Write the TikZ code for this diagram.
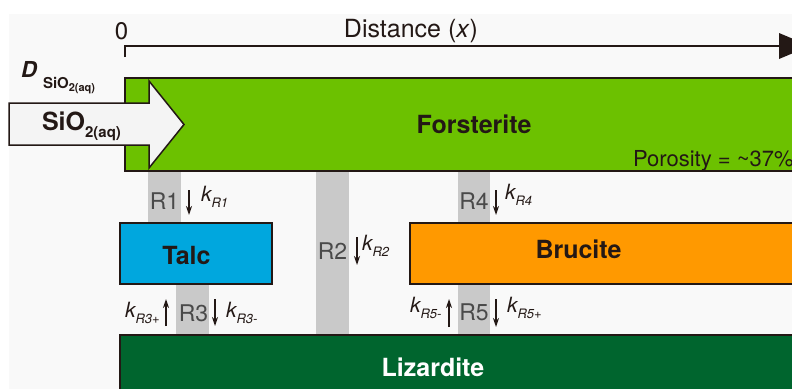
\documentclass[tikz,border=0pt]{standalone}
\usepackage{fontspec}
\setmainfont{TeX Gyre Heros}
\usetikzlibrary{arrows.meta}
\definecolor{ink}{HTML}{231815}
\definecolor{bgc}{HTML}{F9F9F9}
\definecolor{forst}{HTML}{6CC100}
\definecolor{talcc}{HTML}{00A7DE}
\definecolor{bruc}{HTML}{FF9900}
\definecolor{liz}{HTML}{00652E}
\definecolor{band}{HTML}{C9C9C9}
\definecolor{rgray}{HTML}{4A4A4A}
\definecolor{arrowfill}{HTML}{F4F4F4}
\newcommand{\fs}[1]{\fontsize{#1}{#1}\selectfont}
\newcommand{\kRlab}[1]{{\fs{21}\itshape k}\raisebox{-6pt}{\fs{13}\itshape #1}}
\begin{document}
\begin{tikzpicture}[x=1pt,y=-1pt,
  txt/.style={inner sep=0pt, outer sep=0pt, anchor=base, text=ink},
  txtw/.style={txt, anchor=base west},
  rlab/.style={txt, text=rgray, font=\fs{23}},
  boldlab/.style={txt, font=\fs{25}\bfseries},
  layer/.style={draw=ink, line width=1.5pt, inner sep=0pt, outer sep=0pt},
  bandbox/.style={fill=band},
  rxn/.style={draw=ink, line width=1.3pt, -{Stealth[length=9pt,width=6pt]}}]
\useasboundingbox (0,0) rectangle (792,388);
\clip (0,0) rectangle (792,388);
\fill[bgc] (9,14) rectangle (800,400);

% gray reaction bands
\fill[bandbox] (148,171) rectangle (181,223);
\fill[bandbox] (316,171) rectangle (349,335);
\fill[bandbox] (176,284) rectangle (209,335);
\fill[bandbox] (458,171) rectangle (490,223);
\fill[bandbox] (458,284) rectangle (490,335);

% layers
\node[layer, fill=forst, minimum width=695pt, minimum height=93pt] (forst) at (472.5,124.5) {};
\node[layer, fill=talcc, minimum width=152pt, minimum height=61pt] (talc) at (196,253.5) {};
\node[layer, fill=bruc, minimum width=410pt, minimum height=61pt] (bruc) at (615,253.5) {};
\node[layer, fill=liz, minimum width=700pt, minimum height=80pt] (liz) at (470,375) {};

% distance axis
\coordinate (ax0) at (125,57);
\coordinate (axc) at (125,46);
\coordinate (axe) at (780,46);
\draw[ink, line width=1.5pt] (ax0) -- (axc) -- (axe);
\fill[ink] (779,33) -- (810,46) -- (779,59) -- cycle;
\node[txt, font=\fs{24}] (zero) at (121.5,39) {0};
\node[txt, font=\fs{25}] (dist) at (411,37) {Distance (\textit{x})};

% SiO2 inflow arrow
\draw[ink, line width=1.5pt, fill=arrowfill] (9,103) -- (149,103) -- (149,81) -- (184,124.5) -- (149,168) -- (149,145) -- (9,145) -- cycle;
\node[txtw, font=\fs{25}\bfseries] (sio) at (42,130) {SiO\raisebox{-7pt}{\fs{15}\bfseries 2(aq)}};
\node[txtw, font=\fs{22}\bfseries\itshape] (dlab) at (21,77) {D};
\node[txtw, font=\fs{15}\bfseries] (dsub) at (43,88) {SiO\raisebox{-3pt}{\fs{11}\bfseries 2(aq)}};

% layer labels
\node[boldlab] (forstlab) at (474,133) {Forsterite};
\node[txtw, font=\fs{22}] (poro) at (633,166) {Porosity = \textasciitilde37\%};
\node[boldlab] (talclab) at (186.5,264) {Talc};
\node[boldlab] (bruclab) at (578.5,258) {Brucite};
\node[boldlab, text=white] (lizlab) at (433,376) {Lizardite};

% reaction labels
\node[rlab] (r1) at (164.5,209) {R1};
\node[rlab] (r2) at (332.5,259) {R2};
\node[rlab] (r3) at (193.5,321) {R3};
\node[rlab] (r4) at (474,209) {R4};
\node[rlab] (r5) at (474,320) {R5};

\node[txtw] (k1) at (201,201) {\kRlab{R1}};
\node[txtw] (k2) at (362,250) {\kRlab{R2}};
\node[txtw] (k3p) at (125,317) {\kRlab{R3+}};
\node[txtw] (k3m) at (226,317) {\kRlab{R3-}};
\node[txtw] (k4) at (505,199) {\kRlab{R4}};
\node[txtw] (k5m) at (410,312) {\kRlab{R5-}};
\node[txtw] (k5p) at (507,312) {\kRlab{R5+}};

% reaction arrows
\coordinate (a1s) at (189,190); \coordinate (a1e) at (189,215);
\coordinate (a2s) at (357,237); \coordinate (a2e) at (357,265);
\coordinate (a3us) at (166,326); \coordinate (a3ue) at (166,299);
\coordinate (a3ds) at (215,299); \coordinate (a3de) at (215,326);
\coordinate (a4s) at (496,190); \coordinate (a4e) at (496,215);
\coordinate (a5us) at (449,327); \coordinate (a5ue) at (449,299);
\coordinate (a5ds) at (496,299); \coordinate (a5de) at (496,327);
\draw[rxn] (a1s) -- (a1e);
\draw[rxn] (a2s) -- (a2e);
\draw[rxn] (a3us) -- (a3ue);
\draw[rxn] (a3ds) -- (a3de);
\draw[rxn] (a4s) -- (a4e);
\draw[rxn] (a5us) -- (a5ue);
\draw[rxn] (a5ds) -- (a5de);
\end{tikzpicture}
\end{document}
